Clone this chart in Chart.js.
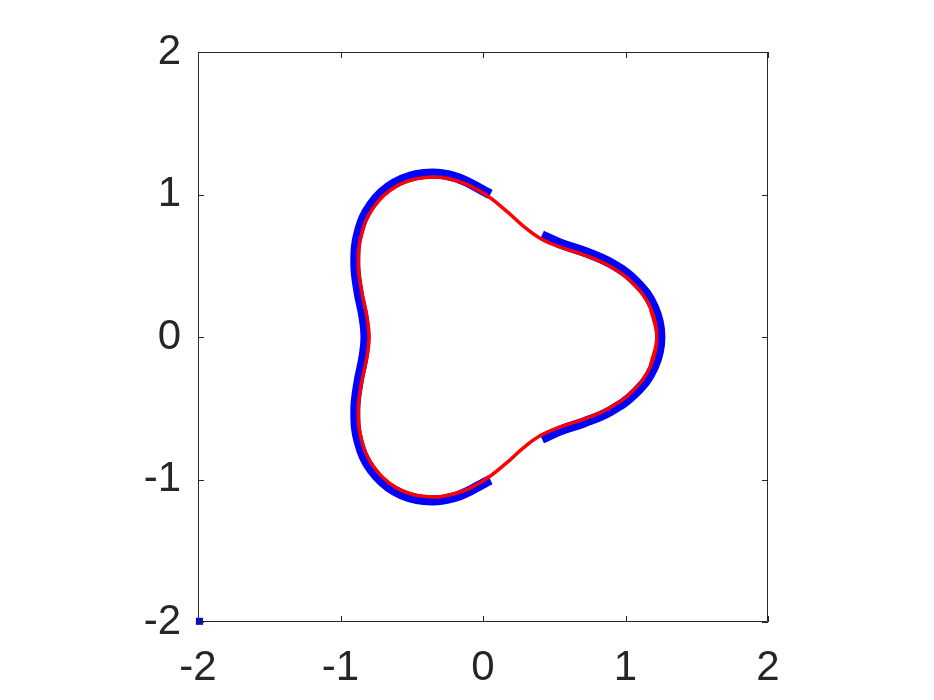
<!DOCTYPE html>
<html lang="es">
<head>
<meta charset="UTF-8">
<title>Curva trilobulada</title>
<script src="https://cdn.jsdelivr.net/npm/chart.js"></script>
<style>
  html, body { margin: 0; padding: 0; background: #ffffff; }
  #contenedor { width: 934px; height: 700px; }
</style>
</head>
<body>
<div id="contenedor"><canvas id="grafica" width="934" height="700"></canvas></div>
<script>
// Curva roja (cerrada, con un punto de solape al inicio y al final)
const rojoX = [1.174, 1.22, 1.174, 1.048, 0.875, 0.693, 0.532, 0.400, 0.283, 0.157, 0.000,
  -0.194, -0.408, -0.610, -0.766, -0.854, -0.875, -0.850, -0.815, -0.800,
  -0.815, -0.850, -0.875, -0.854, -0.766, -0.610, -0.408, -0.194, 0.000,
  0.157, 0.283, 0.400, 0.532, 0.693, 0.875, 1.048, 1.174, 1.22, 1.174];
const rojoY = [-0.207, 0.000, 0.207, 0.381, 0.505, 0.582, 0.634, 0.693, 0.778, 0.891, 1.010,
  1.098, 1.120, 1.057, 0.913, 0.717, 0.505, 0.310, 0.144, 0.000,
  -0.144, -0.310, -0.505, -0.717, -0.913, -1.057, -1.120, -1.098, -1.010,
  -0.891, -0.778, -0.693, -0.634, -0.582, -0.505, -0.381, -0.207, 0.000, 0.207];

// Banda azul, tramo derecho
const azulDerX = [0.413, 0.548, 0.712, 0.896, 1.071, 1.199, 1.245, 1.199, 1.071, 0.896, 0.712, 0.548, 0.413];
const azulDerY = [-0.714, -0.653, -0.598, -0.518, -0.390, -0.211, 0.000, 0.211, 0.390, 0.518, 0.598, 0.653, 0.714];

// Banda azul, tramo izquierdo
const azulIzqX = [0.052, -0.198, -0.416, -0.623, -0.782, -0.873, -0.896, -0.874, -0.840, -0.825,
  -0.840, -0.874, -0.896, -0.873, -0.782, -0.623, -0.416, -0.198, 0.052];
const azulIzqY = [1.001, 1.123, 1.144, 1.078, 0.932, 0.733, 0.518, 0.318, 0.148, 0.000,
  -0.148, -0.318, -0.518, -0.733, -0.932, -1.078, -1.144, -1.123, -1.001];

// Punto suelto en la esquina
const esquinaX = [-1.99];
const esquinaY = [-1.995];

// Marcas de los ejes
const ticksX = [-2, -1, 0, 1, 2];
const ticksY = [-2, -1, 0, 1, 2];

const COLOR_EJE = '#262626';
const FUENTE = { family: '"Liberation Sans", Arial, Helvetica, sans-serif', size: 42 };

function puntos(xs, ys) {
  return xs.map((x, i) => ({ x: x, y: ys[i] }));
}

// Caja y marcas hacia dentro en los cuatro lados
const cajaPlugin = {
  id: 'caja',
  afterDraw(chart) {
    const { ctx, chartArea: a, scales } = chart;
    const largo = 6;
    ctx.save();
    ctx.strokeStyle = COLOR_EJE;
    ctx.lineWidth = 1;
    ctx.beginPath();
    ctx.rect(a.left + 0.5, a.top + 0.5, a.right - a.left - 1, a.bottom - a.top - 1);
    ticksX.forEach(v => {
      const px = Math.round(scales.x.getPixelForValue(v)) + 0.5;
      ctx.moveTo(px, a.bottom); ctx.lineTo(px, a.bottom - largo);
      ctx.moveTo(px, a.top); ctx.lineTo(px, a.top + largo);
    });
    ticksY.forEach(v => {
      const py = Math.round(scales.y.getPixelForValue(v)) + 0.5;
      ctx.moveTo(a.left, py); ctx.lineTo(a.left + largo, py);
      ctx.moveTo(a.right, py); ctx.lineTo(a.right - largo, py);
    });
    ctx.stroke();
    ctx.restore();
  }
};

const ctx = document.getElementById('grafica').getContext('2d');
const grafica = new Chart(ctx, {
  type: 'scatter',
  data: {
    datasets: [
      {
        label: 'curva',
        data: puntos(rojoX, rojoY),
        showLine: true,
        borderColor: '#ff0000',
        borderWidth: 3.5,
        pointRadius: 0,
        tension: 0.4,
        order: 0
      },
      {
        label: 'banda derecha',
        data: puntos(azulDerX, azulDerY),
        showLine: true,
        borderColor: '#0000ff',
        borderWidth: 10,
        borderCapStyle: 'butt',
        pointRadius: 0,
        tension: 0.4,
        order: 1
      },
      {
        label: 'banda izquierda',
        data: puntos(azulIzqX, azulIzqY),
        showLine: true,
        borderColor: '#0000ff',
        borderWidth: 10,
        borderCapStyle: 'butt',
        pointRadius: 0,
        tension: 0.4,
        order: 1
      },
      {
        label: 'esquina',
        data: puntos(esquinaX, esquinaY),
        pointStyle: 'rect',
        pointRadius: 5,
        pointBorderWidth: 0,
        backgroundColor: '#0000ff',
        clip: false,
        order: 1
      }
    ]
  },
  options: {
    responsive: false,
    animation: false,
    events: [],
    layout: { padding: { left: 0, top: 52, right: 166, bottom: 0 } },
    plugins: {
      legend: { display: false },
      tooltip: { enabled: false }
    },
    scales: {
      x: {
        type: 'linear',
        min: -2,
        max: 2,
        afterBuildTicks: s => { s.ticks = ticksX.map(v => ({ value: v })); },
        afterFit: s => { s.height = 78; },
        grid: { display: false, drawTicks: false },
        border: { display: false },
        ticks: { color: COLOR_EJE, font: FUENTE, padding: 21, maxRotation: 0 }
      },
      y: {
        type: 'linear',
        min: -2,
        max: 2,
        afterBuildTicks: s => { s.ticks = ticksY.map(v => ({ value: v })); },
        afterFit: s => { s.width = 198; },
        grid: { display: false, drawTicks: false },
        border: { display: false },
        ticks: { color: COLOR_EJE, font: FUENTE, padding: 17 }
      }
    }
  },
  plugins: [cajaPlugin]
});
</script>
</body>
</html>
